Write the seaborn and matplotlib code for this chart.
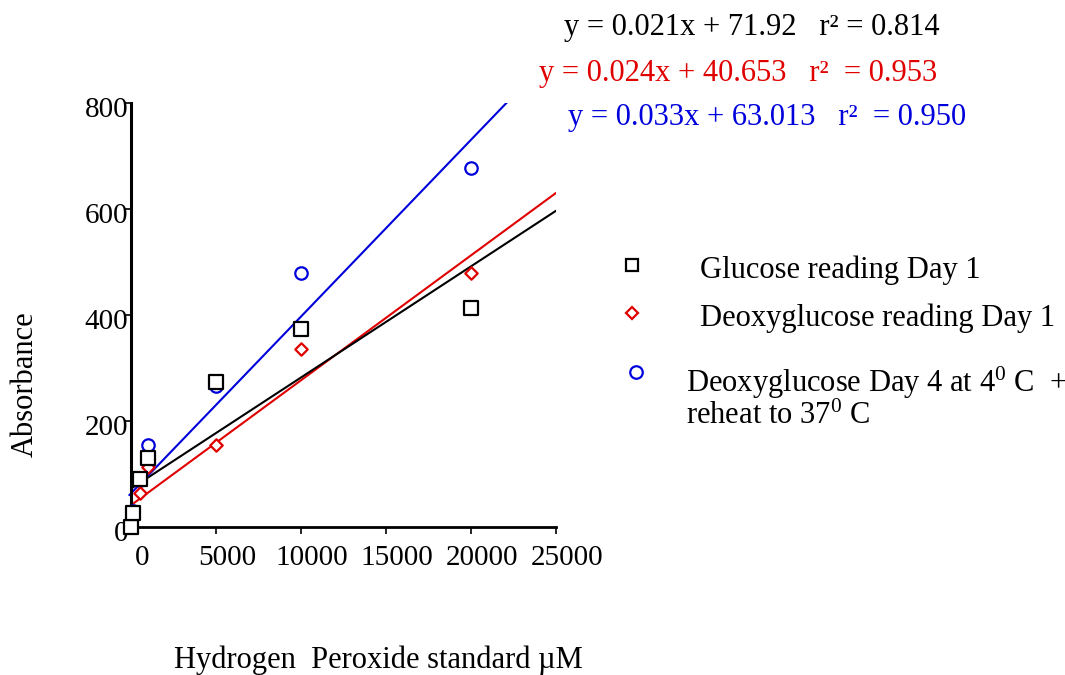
import numpy as np
import pandas as pd
import matplotlib
matplotlib.use("Agg")
import matplotlib.pyplot as plt
import seaborn as sns
from matplotlib.lines import Line2D
from matplotlib.transforms import ScaledTranslation

# ---- data ----
conc = [0, 100, 500, 1000, 5000, 10000, 20000]
glucose_day1 = [0, 25, 90, 130, 273, 373, 413]
deoxy_day1 = [5, 20, 63, 113, 154, 335, 480]
deoxy_day4 = [0, 30, 88, 155, 265, 479, 677]

series_names = ["Glucose reading Day 1", "Deoxyglucose reading Day 1",
                "Deoxyglucose Day 4 at 4$^{0}$ C  +"]
series_name_line2 = "reheat to 37$^{0}$ C"
slopes = [0.021, 0.0236, 0.0334]
intercepts = [71.92, 40.653, 63.013]
eq_labels = ["y = 0.021x + 71.92   r\u00b2 = 0.814",
             "y = 0.024x + 40.653   r\u00b2  = 0.953",
             "y = 0.033x + 63.013   r\u00b2  = 0.950"]
x_ticks = [0, 5000, 10000, 15000, 20000, 25000]
y_ticks = [0, 200, 400, 600, 800]

colors = ["#000000", "#E00000", "#0000DC"]
markers = ["s", "D", "o"]
sizes = [90, 40, 80]

sns.set_style("white")
plt.rcParams["font.family"] = ["Liberation Serif", "DejaVu Serif"]
plt.rcParams["mathtext.fontset"] = "custom"
plt.rcParams["mathtext.rm"] = "Liberation Serif"
plt.rcParams["mathtext.it"] = "Liberation Serif:italic"
plt.rcParams["mathtext.default"] = "regular"
plt.rcParams["text.color"] = "black"
plt.rcParams["axes.labelcolor"] = "black"
plt.rcParams["xtick.color"] = "black"
plt.rcParams["ytick.color"] = "black"

W, H = 1065, 675
fig = plt.figure(figsize=(W / 100, H / 100), dpi=100)
ax = fig.add_axes([114 / W, 1 - 526.7 / H, 442 / W, 423.4 / H])

# regression lines
line_start = [0, -150, -100]
line_order = [1, 0, 2]
for i in line_order:
    xline = np.array([line_start[i], 25000])
    ax.plot(xline, slopes[i] * xline + intercepts[i], color=colors[i], lw=1.5, zorder=2)

# data points
df = pd.DataFrame({"conc": conc * 3,
                   "value": glucose_day1 + deoxy_day1 + deoxy_day4,
                   "series": [0] * 7 + [1] * 7 + [2] * 7})
for i in [2, 1, 0]:
    sub = df[df["series"] == i]
    n_before = len(ax.collections)
    sns.scatterplot(data=sub, x="conc", y="value", marker=markers[i], s=sizes[i],
                    ax=ax, legend=False, clip_on=False, zorder=3 + (2 - i))
    coll = ax.collections[n_before]
    coll.set_facecolor("white")
    coll.set_edgecolor(colors[i])
    coll.set_linewidth(1.6)

ax.set_xlim(-1000, 25000)
ax.set_ylim(0, 800)
ax.set_xticks(x_ticks)
ax.set_yticks(y_ticks)
ax.set_xticklabels([str(t) for t in x_ticks])
ax.set_yticklabels([str(t) for t in y_ticks])
ax.set_xlabel("")
ax.set_ylabel("")

for s in ["top", "right"]:
    ax.spines[s].set_visible(False)
ax.spines["left"].set_position(("data", 0))
ax.spines["left"].set_linewidth(2.2)
ax.spines["bottom"].set_linewidth(2.0)
ax.spines["bottom"].set_bounds(-150, 25000)
for s in ["left", "bottom"]:
    ax.spines[s].set_color("black")

ax.tick_params(axis="x", direction="out", length=5, width=1.2, pad=8,
               labelsize=21, bottom=True, colors="black")
ax.tick_params(axis="y", direction="out", length=5, width=1.2, pad=-3,
               labelsize=21, left=True, colors="black")
for lab in ax.get_xticklabels():
    lab.set_transform(lab.get_transform() + ScaledTranslation(0.11, 0, fig.dpi_scale_trans))
for lab in ax.get_yticklabels():
    lab.set_transform(lab.get_transform() + ScaledTranslation(0, -0.04, fig.dpi_scale_trans))
ax.grid(False)

FS = 22
# axis titles
fig.text(25 / W, 1 - 384 / H, "Absorbance", rotation=90, ha="center", va="center",
         fontsize=FS, color="black")
fig.text(378 / W, 1 - 660 / H, "Hydrogen  Peroxide standard µM", ha="center", va="center",
         fontsize=FS, color="black")

# equations
eq_pos = [(752, 27), (738, 73), (767, 117)]
for (px, py), lab, c in zip(eq_pos, eq_labels, colors):
    fig.text(px / W, 1 - py / H, lab, ha="center", va="center", fontsize=FS, color=c)

# legend (manual)
leg_marker_pos = [(632, 265), (632, 313), (636, 372)]
leg_marker_size = [8.5, 6.0, 9.0]
for (px, py), m, c, ms in zip(leg_marker_pos, markers, colors, leg_marker_size):
    fig.add_artist(Line2D([px / W], [1 - py / H], marker=m, markersize=ms,
                          markerfacecolor="white", markeredgecolor=c,
                          markeredgewidth=1.6, linestyle="none",
                          transform=fig.transFigure))
fig.text(700 / W, 1 - 270 / H, series_names[0], ha="left", va="center", fontsize=FS, color="black")
fig.text(700 / W, 1 - 318 / H, series_names[1], ha="left", va="center", fontsize=FS, color="black")
fig.text(686 / W, 1 - 383 / H, series_names[2], ha="left", va="center", fontsize=FS, color="black")
fig.text(686 / W, 1 - 416 / H, series_name_line2, ha="left", va="center", fontsize=FS, color="black")

fig.savefig("out.png", dpi=100)
